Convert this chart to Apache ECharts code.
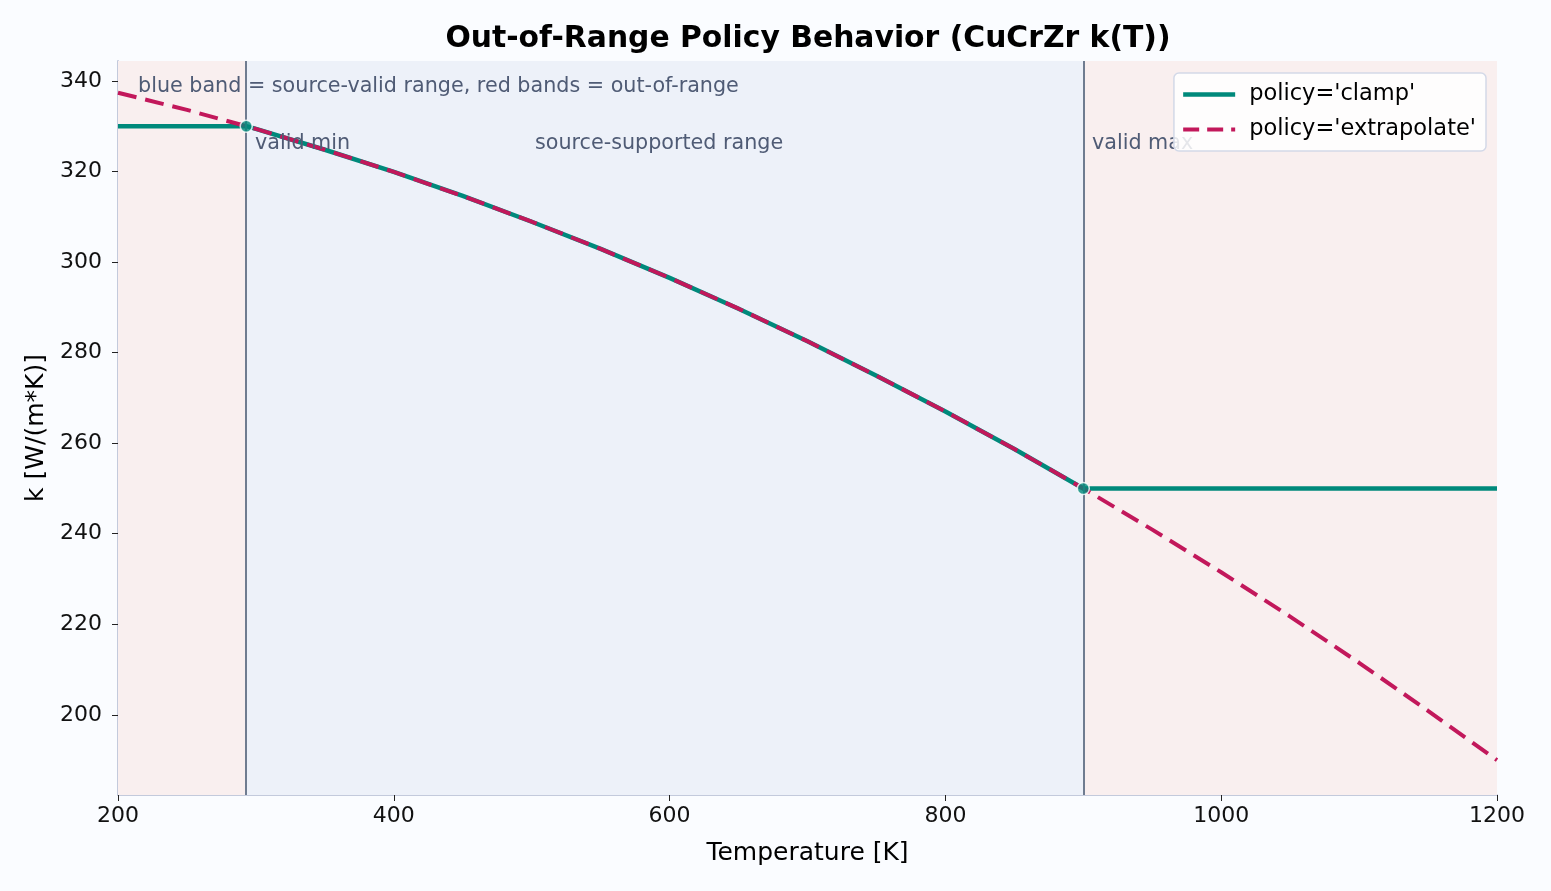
<!DOCTYPE html>
<html>
<head>
<meta charset="utf-8">
<script src="https://cdn.jsdelivr.net/npm/echarts@6/dist/echarts.min.js"></script>
<style>
  html, body { margin: 0; padding: 0; background: #fafcff; }
  #chart { width: 1551px; height: 891px; }
</style>
</head>
<body>
<div id="chart"></div>
<script>
// temperatures [K] and k(T)
var temps = [200, 250, 293, 300, 350, 400, 450, 500, 550, 600, 650, 700, 750, 800, 850, 900, 950, 1000, 1050, 1100, 1150, 1200];
var kExtrapolate = [337.4, 333.6, 330.0, 329.4, 324.8, 319.9, 314.6, 308.9, 302.9, 296.5, 289.7, 282.5, 274.9, 267.0, 258.7, 250.0, 240.9, 231.5, 221.7, 211.5, 200.9, 190.0];
var kClamp = [330.0, 330.0, 330.0, 329.4, 324.8, 319.9, 314.6, 308.9, 302.9, 296.5, 289.7, 282.5, 274.9, 267.0, 258.7, 250.0, 250.0, 250.0, 250.0, 250.0, 250.0, 250.0];
var validRange = [293, 900];
var validEnds = [[293, 330], [900, 250]];
var yTicks = [200, 220, 240, 260, 280, 300, 320, 340];

var chart = echarts.init(document.getElementById('chart'));

function pairs(xs, ys) {
    var out = [];
    for (var i = 0; i < xs.length; i++) out.push([xs[i], ys[i]]);
    return out;
}

var fontFam = 'DejaVu Sans';
var noteColor = '#4f5b75';
var noteSize = 20.7;
var teal = '#00897b';
var crimson = '#c2185b';
var dash = [19, 9];

var option = {
    backgroundColor: '#fafcff',
    animation: false,
    textStyle: { fontFamily: fontFam },
    title: {
        text: 'Out-of-Range Policy Behavior (CuCrZr k(T))',
        left: 803,
        textAlign: 'center',
        top: 19,
        textStyle: { fontFamily: fontFam, fontSize: 29.8, fontWeight: 'bold', color: '#000' }
    },
    legend: {
        right: 65,
        top: 73,
        z: 200,
        orient: 'vertical',
        itemWidth: 52,
        itemHeight: 16,
        itemGap: 12,
        padding: [10, 10, 10, 7],
        backgroundColor: 'rgba(255,255,255,0.85)',
        borderColor: '#d3d9e8',
        borderWidth: 1.5,
        borderRadius: 5,
        itemStyle: { opacity: 0 },
        textStyle: { fontFamily: fontFam, fontSize: 22.5, color: '#000', padding: [0, 0, 0, 9] },
        data: [
            { name: "policy='clamp'", lineStyle: { width: 4.5, color: teal } },
            { name: "policy='extrapolate'", lineStyle: { width: 4, color: crimson, type: [16, 8] } }
        ]
    },
    grid: { left: 118, right: 54, top: 61, bottom: 96 },
    xAxis: {
        type: 'value',
        min: 200,
        max: 1200,
        interval: 200,
        name: 'Temperature [K]',
        nameLocation: 'middle',
        nameGap: 46,
        nameTextStyle: { fontSize: 25, color: '#000' },
        axisLine: { lineStyle: { color: '#c3cadc', width: 2 } },
        axisTick: { show: true, length: 6, lineStyle: { color: '#222' } },
        axisLabel: { fontSize: 22, color: '#111', margin: 10, formatter: function(v) { return String(v); } },
        splitLine: { show: false }
    },
    yAxis: {
        type: 'value',
        min: 182.3,
        max: 344.4,
        name: 'k [W/(m*K)]',
        nameLocation: 'middle',
        nameGap: 68,
        nameTextStyle: { fontSize: 25, color: '#000' },
        axisLine: { show: true, lineStyle: { color: '#c3cadc', width: 2 } },
        axisTick: { show: true, length: 6, customValues: yTicks, lineStyle: { color: '#222' } },
        axisLabel: { fontSize: 22, color: '#111', margin: 16, customValues: yTicks },
        splitLine: { show: false }
    },
    graphic: [
        { type: 'text', left: 138, top: 76, z: 100, style: { text: 'blue band = source-valid range, red bands = out-of-range', fontFamily: fontFam, fontSize: noteSize, fill: noteColor } },
        { type: 'text', left: 255, top: 133, z: 100, style: { text: 'valid min', fontFamily: fontFam, fontSize: noteSize, fill: noteColor } },
        { type: 'text', left: 1092, top: 133, z: 100, style: { text: 'valid max', fontFamily: fontFam, fontSize: noteSize, fill: noteColor } },
        { type: 'text', left: 535, top: 133, z: 100, style: { text: 'source-supported range', fontFamily: fontFam, fontSize: noteSize, fill: noteColor } }
    ],
    series: [
        {
            name: "policy='clamp'",
            type: 'line',
            data: pairs(temps, kClamp),
            showSymbol: false,
            symbol: 'none',
            color: teal,
            lineStyle: { color: teal, width: 4.5 },
            z: 3,
            markArea: {
                silent: true,
                data: [
                    [{ xAxis: 200, itemStyle: { color: '#f9efef' } }, { xAxis: validRange[0] }],
                    [{ xAxis: validRange[0], itemStyle: { color: '#edf1f9' } }, { xAxis: validRange[1] }],
                    [{ xAxis: validRange[1], itemStyle: { color: '#f9efef' } }, { xAxis: 1200 }]
                ]
            },
            markLine: {
                silent: true,
                symbol: 'none',
                label: { show: false },
                lineStyle: { color: '#6f7c90', width: 2, type: 'solid' },
                data: [{ xAxis: validRange[0] }, { xAxis: validRange[1] }]
            }
        },
        {
            name: "policy='extrapolate'",
            type: 'line',
            data: pairs(temps, kExtrapolate),
            showSymbol: false,
            symbol: 'none',
            color: crimson,
            lineStyle: { color: crimson, width: 4, type: dash },
            z: 4
        },
        {
            name: 'ends',
            type: 'scatter',
            data: validEnds,
            symbol: 'circle',
            symbolSize: 12,
            itemStyle: { color: teal, borderColor: '#ffffff', borderWidth: 1.5 },
            z: 5
        }
    ]
};
chart.setOption(option);

window.addEventListener('resize', function() {
    chart.resize()
})
</script>
</body>
</html>
